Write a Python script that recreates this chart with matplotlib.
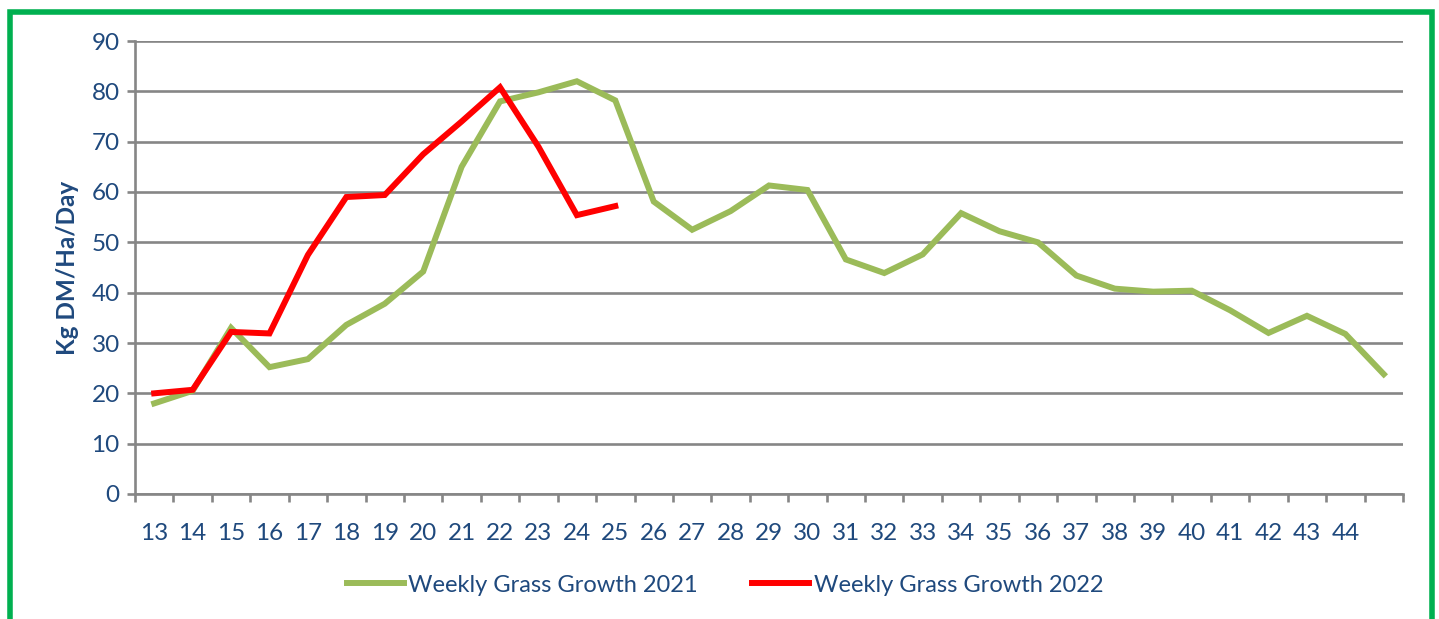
import matplotlib
matplotlib.use('Agg')
import matplotlib.pyplot as plt
from matplotlib.patches import Rectangle
import numpy as np

# Week numbers (last category has no label in the source chart)
weeks = ['13', '14', '15', '16', '17', '18', '19', '20', '21', '22', '23', '24', '25',
         '26', '27', '28', '29', '30', '31', '32', '33', '34', '35', '36', '37', '38',
         '39', '40', '41', '42', '43', '44', '']

growth_2021 = [18.0, 20.5, 33.0, 25.2, 26.8, 33.6, 37.8, 44.2, 65.0, 78.0, 79.8, 82.0, 78.2,
               58.1, 52.5, 56.2, 61.3, 60.4, 46.6, 43.9, 47.6, 55.8, 52.2, 50.0, 43.4, 40.8,
               40.2, 40.4, 36.5, 32.0, 35.4, 31.8, 23.8]
growth_2022 = [20.0, 20.7, 32.2, 31.9, 47.5, 59.0, 59.4, 67.5, 74.0, 80.8, 69.0, 55.4, 57.2]

text_blue = '#1F497D'
grid_grey = '#868686'

plt.rcParams['font.family'] = ['Lato', 'DejaVu Sans']

fig = plt.figure(figsize=(14.39, 6.19), dpi=100)
ax = fig.add_axes([135 / 1439, 125 / 619, (1403 - 135) / 1439, (494 - 41) / 619])

x21 = np.arange(len(growth_2021))
x22 = np.arange(len(growth_2022))
ax.plot(x21, growth_2021, color='#9BBB59', linewidth=4.3, solid_joinstyle='miter',
        label='Weekly Grass Growth 2021', zorder=3)
ax.plot(x22, growth_2022, color='#FF0000', linewidth=4.3, solid_joinstyle='miter',
        label='Weekly Grass Growth 2022', zorder=4)

ax.set_xlim(-0.5, len(weeks) - 0.5)
ax.set_ylim(0, 90)
ax.set_yticks(np.arange(0, 91, 10))
ax.yaxis.grid(True, color=grid_grey, linewidth=1.9)
ax.set_axisbelow(True)

ax.set_xticks(np.arange(len(weeks)))
ax.set_xticklabels(weeks)
ax.set_xticks(np.arange(len(weeks) + 1) - 0.5, minor=True)
ax.tick_params(axis='x', which='major', length=0, pad=21, labelsize=17.5, labelcolor=text_blue)
ax.tick_params(axis='x', which='minor', length=6, width=1.9, color=grid_grey)
ax.tick_params(axis='y', length=6, width=1.9, color=grid_grey, pad=5,
               labelsize=17.5, labelcolor=text_blue)

for s in ['top', 'right']:
    ax.spines[s].set_visible(False)
for s in ['left', 'bottom']:
    ax.spines[s].set_color(grid_grey)
    ax.spines[s].set_linewidth(1.9)

ax.set_ylabel('Kg DM/Ha/Day', fontsize=17.5, fontweight='bold', color=text_blue, labelpad=9)

fig.legend(loc='center', bbox_to_anchor=(725 / 1439, 1 - 585 / 619), ncol=2, frameon=False,
           fontsize=17, labelcolor=text_blue, handlelength=2.4, handletextpad=0.2,
           columnspacing=2.3)

# green frame round the chart
fig.patches.append(Rectangle((10 / 1439, -0.05), 1422 / 1439, 1.05 - 12 / 619,
                             transform=fig.transFigure, fill=False,
                             edgecolor='#00B050', linewidth=4))

fig.savefig('out.png', dpi=100)
